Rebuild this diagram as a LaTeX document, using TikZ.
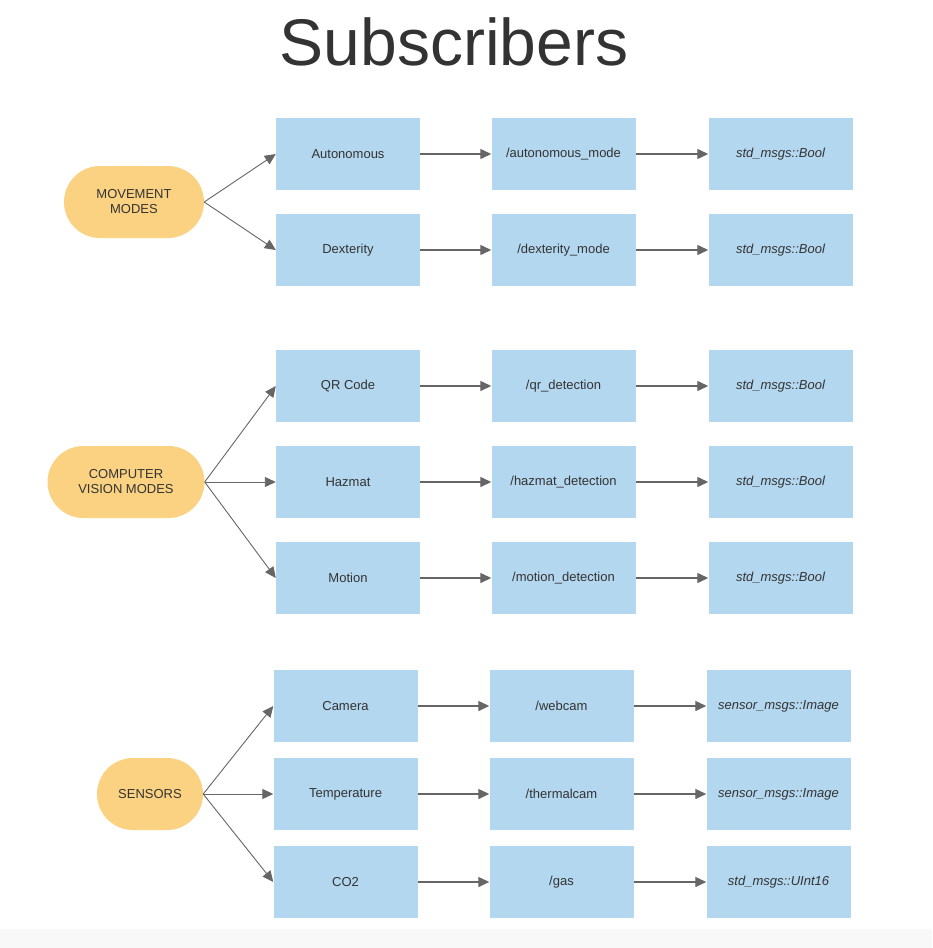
\documentclass[tikz,border=0pt]{standalone}
\usepackage{fontspec}
\setmainfont{Liberation Sans}
\usetikzlibrary{arrows.meta}
\definecolor{boxblue}{HTML}{B3D7EF}
\definecolor{ovalyel}{HTML}{FAD282}
\definecolor{txt}{HTML}{333333}
\definecolor{arr}{HTML}{666666}
\definecolor{band}{HTML}{F8F8F8}
\begin{document}
\begin{tikzpicture}[x=1pt,y=-1pt,
 topicbox/.style={fill=boxblue, minimum width=144pt, minimum height=72pt, inner sep=0pt, text=txt, font=\fontsize{13}{15}\selectfont},
 typebox/.style={topicbox, font=\fontsize{13}{15}\selectfont\itshape},
 groupoval/.style={fill=ovalyel, rounded corners=36pt, minimum height=72pt, inner sep=0pt, text=txt, align=center, font=\fontsize{13}{15}\selectfont},
 flow/.style={draw=arr, line width=1.3pt, -{Triangle[length=11pt,width=10pt]}},
 branch/.style={draw=arr, line width=0.9pt, -{Triangle[length=11pt,width=10pt]}}
]
\useasboundingbox (0,0) rectangle (932,948);
\fill[white] (0,0) rectangle (932,948);
\fill[band] (0,929) rectangle (932,948);

\node[text=txt, inner sep=0pt, font=\fontsize{66}{76}\selectfont] (title) at (454,42) {Subscribers};

% Movement modes
\node[groupoval, minimum width=140pt] (mm) at (134,202) {MOVEMENT\\MODES};
\node[topicbox] (auto) at (348,154) {Autonomous};
\node[topicbox] (autot) at (563.5,154) {/autonomous\_mode};
\node[typebox] (autom) at (780.5,154) {std\_msgs::Bool};
\node[topicbox] (dex) at (348,250) {Dexterity};
\node[topicbox] (dext) at (563.5,250) {/dexterity\_mode};
\node[typebox] (dexm) at (780.5,250) {std\_msgs::Bool};

% Computer vision
\node[groupoval, minimum width=157pt] (cv) at (126,482) {COMPUTER\\VISION MODES};
\node[topicbox] (qr) at (348,386) {QR Code};
\node[topicbox] (qrt) at (563.5,386) {/qr\_detection};
\node[typebox] (qrm) at (780.5,386) {std\_msgs::Bool};
\node[topicbox] (haz) at (348,482) {Hazmat};
\node[topicbox] (hazt) at (563.5,482) {/hazmat\_detection};
\node[typebox] (hazm) at (780.5,482) {std\_msgs::Bool};
\node[topicbox] (mot) at (348,578) {Motion};
\node[topicbox] (mott) at (563.5,578) {/motion\_detection};
\node[typebox] (motm) at (780.5,578) {std\_msgs::Bool};

% Sensors
\node[groupoval, minimum width=106pt] (sen) at (150,794) {SENSORS};
\node[topicbox] (cam) at (345.5,706) {Camera};
\node[topicbox] (camt) at (561.5,706) {/webcam};
\node[typebox] (camm) at (778.5,706) {sensor\_msgs::Image};
\node[topicbox] (tmp) at (345.5,794) {Temperature};
\node[topicbox] (tmpt) at (561.5,794) {/thermalcam};
\node[typebox] (tmpm) at (778.5,794) {sensor\_msgs::Image};
\node[topicbox] (co) at (345.5,882) {CO2};
\node[topicbox] (cot) at (561.5,882) {/gas};
\node[typebox] (com) at (778.5,882) {std\_msgs::UInt16};

% branches
\draw[branch] (mm.east) -- (auto.west);
\draw[branch] (mm.east) -- (dex.west);
\draw[branch] (cv.east) -- (qr.west);
\draw[branch] (cv.east) -- (haz.west);
\draw[branch] (cv.east) -- (mot.west);
\draw[branch] (sen.east) -- (cam.west);
\draw[branch] (sen.east) -- (tmp.west);
\draw[branch] (sen.east) -- (co.west);

% flows
\foreach \a/\b/\c in {auto/autot/autom, dex/dext/dexm, qr/qrt/qrm, haz/hazt/hazm, mot/mott/motm, cam/camt/camm, tmp/tmpt/tmpm, co/cot/com}{
  \draw[flow] (\a.east) -- (\b.west);
  \draw[flow] (\b.east) -- (\c.west);
}
\end{tikzpicture}
\end{document}
